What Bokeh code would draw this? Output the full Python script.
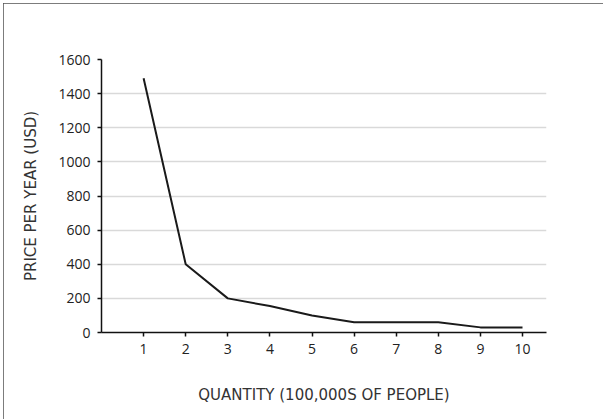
from bokeh.plotting import figure
from bokeh.embed import file_html
from bokeh.resources import INLINE
from bokeh.models import Range1d, FixedTicker

quantity = [1, 2, 3, 4, 5, 6, 7, 8, 9, 10]
price = [1490, 400, 200, 155, 100, 60, 60, 60, 30, 30]
x_ticks = [1, 2, 3, 4, 5, 6, 7, 8, 9, 10]
y_ticks = [0, 200, 400, 600, 800, 1000, 1200, 1400, 1600]

p = figure(width=601, height=416, output_backend="svg", toolbar_location=None,
           x_range=Range1d(0, 10.57), y_range=Range1d(0, 1600),
           min_border_left=98, min_border_top=56, min_border_bottom=87, min_border_right=58)
p.styles = {"margin-left": "3px", "margin-top": "3px",
            "outline": "1px solid #505050", "outline-offset": "-1px"}

p.outline_line_color = None
p.background_fill_color = "white"
p.border_fill_color = "white"

p.line(quantity, price, line_color="#1a1a1a", line_width=2)

p.xgrid.grid_line_color = None
p.ygrid.grid_line_color = "#d9d9d9"
p.ygrid.grid_line_width = 1.5

font = "Open Sans"
for ax in (p.xaxis[0], p.yaxis[0]):
    ax.axis_line_color = "#111111"
    ax.axis_line_width = 1.5
    ax.major_tick_line_color = "#111111"
    ax.major_tick_line_width = 1.5
    ax.major_tick_in = 0
    ax.major_tick_out = 4
    ax.minor_tick_line_color = None
    ax.major_label_text_font = font
    ax.major_label_text_font_size = "14px"
    ax.major_label_text_color = "#222222"
    ax.axis_label_text_font = "DejaVu Sans"
    ax.axis_label_text_font_size = "15px"
    ax.axis_label_text_font_style = "normal"
    ax.axis_label_text_color = "#333333"

p.xaxis.ticker = FixedTicker(ticks=x_ticks)
p.yaxis.ticker = FixedTicker(ticks=y_ticks)
p.xaxis.major_label_standoff = 7
p.yaxis.major_label_standoff = 7
p.xaxis.axis_label = "QUANTITY (100,000S OF PEOPLE)"
p.yaxis.axis_label = "PRICE PER YEAR (USD)"
p.xaxis.axis_label_standoff = 29
p.yaxis.axis_label_standoff = 15

open("out.html", "w").write(file_html(p, INLINE))
